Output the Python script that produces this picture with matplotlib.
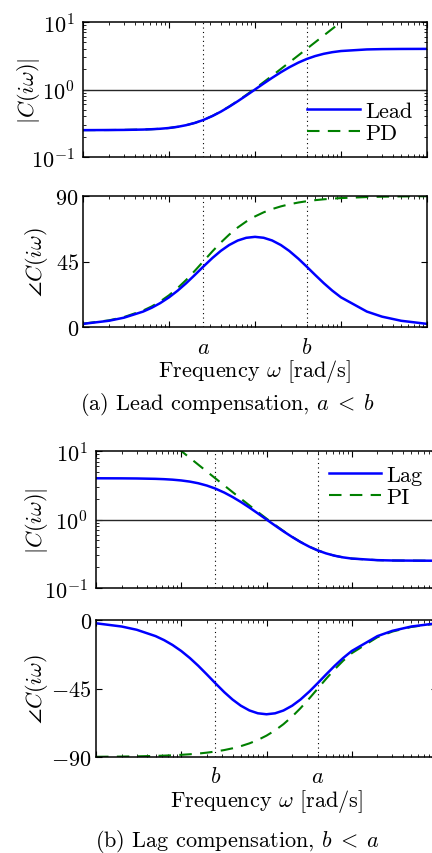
import matplotlib
matplotlib.use("Agg")
import matplotlib.pyplot as plt
import matplotlib.ticker as mt

plt.rcParams['font.family'] = 'serif'
plt.rcParams['font.serif'] = ['cmr10', 'DejaVu Serif']
plt.rcParams['mathtext.fontset'] = 'cm'
plt.rcParams['axes.formatter.use_mathtext'] = True
plt.rcParams['axes.unicode_minus'] = False
plt.rcParams['font.size'] = 16

# corner frequencies
a_lead, b_lead = 0.25, 4.0
b_lag, a_lag = 0.25, 4.0

# frequencies at which the curves were read [rad/s]
w = [0.01, 0.02, 0.03, 0.05, 0.063, 0.079, 0.1, 0.126, 0.158, 0.2, 0.25, 0.32,
     0.4, 0.5, 0.63, 0.79, 1.0, 1.26, 1.58, 2.0, 2.5, 3.2, 4.0, 5.0, 6.3, 7.9,
     10.0, 20.0, 30.0, 50.0, 100.0]

lead_mag = [0.250, 0.251, 0.252, 0.255, 0.258, 0.262, 0.269, 0.280, 0.296, 0.320,
            0.353, 0.405, 0.469, 0.555, 0.670, 0.813, 1.000, 1.225, 1.488, 1.803,
            2.131, 2.506, 2.834, 3.127, 3.380, 3.570, 3.715, 3.923, 3.965, 3.987, 3.997]
lead_phase = [2.15, 4.28, 6.41, 10.59, 13.24, 16.41, 20.37, 24.95, 30.03, 35.80,
              41.42, 47.43, 52.28, 56.30, 59.41, 61.27, 61.93, 61.30, 59.46, 56.30,
              52.28, 46.87, 41.42, 35.80, 30.14, 25.04, 20.37, 10.59, 7.11, 4.28, 2.15]
pd_mag = [0.250, 0.251, 0.252, 0.255, 0.258, 0.262, 0.269, 0.280, 0.296, 0.320,
          0.354, 0.406, 0.472, 0.559, 0.678, 0.829, 1.031, 1.285, 1.600, 2.016,
          2.512, 3.210, 4.008, 5.006, 6.305, 7.904, 10.00, 20.00, 30.00, 50.00, 100.0]
pd_phase = [2.29, 4.57, 6.84, 11.31, 14.14, 17.54, 21.80, 26.75, 32.29, 38.66,
            45.00, 52.00, 57.99, 63.43, 68.36, 72.44, 75.96, 78.78, 81.01, 82.87,
            84.29, 85.53, 86.42, 87.14, 87.73, 88.19, 88.57, 89.28, 89.52, 89.71, 89.86]

lag_mag = [3.997, 3.987, 3.971, 3.922, 3.879, 3.815, 3.715, 3.574, 3.384, 3.127,
           2.834, 2.470, 2.130, 1.803, 1.494, 1.230, 1.000, 0.816, 0.672, 0.555,
           0.469, 0.399, 0.353, 0.320, 0.296, 0.280, 0.269, 0.255, 0.252, 0.251, 0.250]
lag_phase = [-2.15, -4.28, -6.41, -10.59, -13.24, -16.41, -20.37, -24.95, -30.03, -35.80,
             -41.42, -47.43, -52.28, -56.30, -59.41, -61.27, -61.93, -61.30, -59.46, -56.30,
             -52.28, -46.87, -41.42, -35.80, -30.14, -25.04, -20.37, -10.59, -7.11, -4.28, -2.15]
pi_mag = [100.0, 50.0, 33.3, 20.0, 15.87, 12.66, 10.00, 7.94, 6.334, 5.006,
          4.008, 3.135, 2.513, 2.016, 1.607, 1.290, 1.031, 0.832, 0.680, 0.559,
          0.472, 0.400, 0.354, 0.320, 0.296, 0.280, 0.269, 0.255, 0.252, 0.251, 0.250]
pi_phase = [-89.86, -89.71, -89.57, -89.28, -89.10, -88.87, -88.57, -88.20, -87.74, -87.14,
            -86.42, -85.43, -84.29, -82.87, -81.05, -78.83, -75.96, -72.52, -68.45, -63.43,
            -57.99, -51.34, -45.00, -38.66, -32.41, -26.85, -21.80, -11.31, -7.59, -4.57, -2.29]

W, H = 432, 854
fig = plt.figure(figsize=(W / 100, H / 100), dpi=100)


def add_ax(left, top, right, bottom):
    return fig.add_axes([left / W, 1 - bottom / H, (right - left) / W, (bottom - top) / H])


ax1 = add_ax(83, 23, 427, 158)
ax2 = add_ax(83, 197, 427, 328)
ax3 = add_ax(96, 452, 437, 589)
ax4 = add_ax(96, 621, 437, 758)

blue = (0, 0, 1)
green = (0, 0.5, 0)
dot = (0, (1, 3))
lw_main = 1.8


def style(ax, logy):
    ax.set_xscale('log')
    ax.set_xlim(0.01, 100)
    ax.tick_params(which='both', direction='in', top=True, right=True, labelbottom=False)
    ax.tick_params(which='major', length=4.5, width=0.8)
    ax.tick_params(which='minor', length=2.5, width=0.6)
    for s in ax.spines.values():
        s.set_linewidth(1.1)
    if logy:
        ax.set_yscale('log')
        ax.set_ylim(0.1, 10)
        ax.set_yticks([0.1, 1, 10])
        ax.tick_params(axis='y', pad=6)
    else:
        ax.minorticks_off()
        ax.xaxis.set_minor_locator(mt.LogLocator(base=10, subs=range(2, 10), numticks=20))
        ax.tick_params(axis='y', pad=3)


def legend(ax, loc):
    h, l = ax.get_legend_handles_labels()
    ax.legend(h[::-1], l[::-1], loc=loc, frameon=False, handlelength=2.35,
              handletextpad=0.25, labelspacing=0.1, borderaxespad=0.25)


# (a) lead
style(ax1, True)
ax1.axhline(1, color='0.15', lw=1.0)
ax1.axvline(a_lead, color='k', ls=dot, lw=0.8)
ax1.axvline(b_lead, color='k', ls=dot, lw=0.8)
ax1.plot(w, pd_mag, color=green, lw=1.5, dashes=(6, 4), label='PD')
ax1.plot(w, lead_mag, color=blue, lw=lw_main, label='Lead')
legend(ax1, 'lower right')
ax1.set_ylabel(r'$|C(i\omega)|$')
ax1.yaxis.set_label_coords(-0.12, 0.5)

style(ax2, False)
ax2.set_ylim(0, 90)
ax2.set_yticks([0, 45, 90])
ax2.axvline(a_lead, color='k', ls=dot, lw=0.8)
ax2.axvline(b_lead, color='k', ls=dot, lw=0.8)
ax2.plot(w, pd_phase, color=green, lw=1.5, dashes=(6, 4))
ax2.plot(w, lead_phase, color=blue, lw=lw_main)
ax2.set_ylabel(r'$\angle C(i\omega)$')
ax2.yaxis.set_label_coords(-0.095, 0.5)
ax2.text(a_lead, -0.195, '$a$', transform=ax2.get_xaxis_transform(), ha='center', va='baseline')
ax2.text(b_lead, -0.195, '$b$', transform=ax2.get_xaxis_transform(), ha='center', va='baseline')
ax2.text(0.5, -0.375, r'Frequency $\omega$ [rad/s]', transform=ax2.transAxes,
         ha='center', va='baseline')
fig.text(227 / W, 1 - 410 / H, r'(a) Lead compensation, $a\;<\;b$', ha='center', va='baseline')

# (b) lag
style(ax3, True)
ax3.axhline(1, color='0.15', lw=1.0)
ax3.axvline(b_lag, color='k', ls=dot, lw=0.8)
ax3.axvline(a_lag, color='k', ls=dot, lw=0.8)
ax3.plot(w, pi_mag, color=green, lw=1.5, dashes=(6, 4), label='PI')
ax3.plot(w, lag_mag, color=blue, lw=lw_main, label='Lag')
legend(ax3, 'upper right')
ax3.set_ylabel(r'$|C(i\omega)|$')
ax3.yaxis.set_label_coords(-0.135, 0.5)

style(ax4, False)
ax4.set_ylim(-90, 0)
ax4.set_yticks([-90, -45, 0])
ax4.set_yticklabels(['$-90$', '$-45$', '$0$'])
ax4.axvline(b_lag, color='k', ls=dot, lw=0.8)
ax4.axvline(a_lag, color='k', ls=dot, lw=0.8)
ax4.plot(w, pi_phase, color=green, lw=1.5, dashes=(6, 4))
ax4.plot(w, lag_phase, color=blue, lw=lw_main)
ax4.set_ylabel(r'$\angle C(i\omega)$')
ax4.yaxis.set_label_coords(-0.135, 0.5)
ax4.text(b_lag, -0.18, '$b$', transform=ax4.get_xaxis_transform(), ha='center', va='baseline')
ax4.text(a_lag, -0.18, '$a$', transform=ax4.get_xaxis_transform(), ha='center', va='baseline')
ax4.text(0.5, -0.36, r'Frequency $\omega$ [rad/s]', transform=ax4.transAxes,
         ha='center', va='baseline')
fig.text(237 / W, 1 - 847 / H, r'(b) Lag compensation, $b\;<\;a$', ha='center', va='baseline')

fig.savefig('out.png', dpi=100)
